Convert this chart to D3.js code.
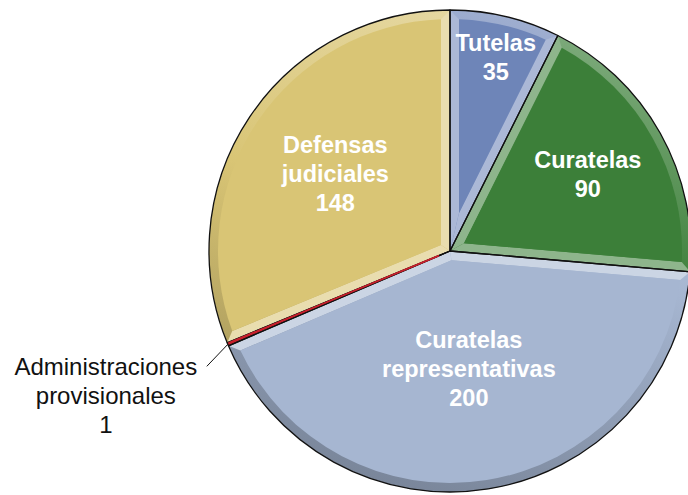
<!DOCTYPE html>
<html>
<head>
<meta charset="utf-8">
<script src="https://cdn.jsdelivr.net/npm/d3@7"></script>
<style>
body { margin: 0; background: #fff; }
svg { display: block; font-family: "Liberation Sans", Arial, Helvetica, sans-serif; }
</style>
</head>
<body>
<div id="chart"></div>
<script>
// Pie: cases by type

var categories = ["Tutelas", "Curatelas", "Curatelas representativas", "Administraciones provisionales", "Defensas judiciales"];
var values = [35, 90, 200, 1, 148];
// category names wrapped the way the chart shows them
var labelLines = [["Tutelas"], ["Curatelas"], ["Curatelas", "representativas"], ["Administraciones", "provisionales"], ["Defensas", "judiciales"]];
var colors = ["#6e85b8", "#3c7f39", "#a6b6d1", "#c8202c", "#d9c575"];
// distance of each inside label from the centre, 0 = label sits outside
var labelRadius = [199, 158, 119, 0, 138];

var svgWidth = 688;
var svgHeight = 495;
var cx = 450, cy = 251, radius = 241, bevel = 9;
var lineHeight = 29;

var svg = d3.select("#chart")
    .append("svg")
    .attr("width", svgWidth)
    .attr("height", svgHeight);

var defs = svg.append("defs");
var pieGroup = svg.append("g")
    .attr("transform", `translate(${cx}, ${cy})`);

var pie = d3.pie().sort(null).value(d => d);
var arcs = pie(values);
var outerArc = d3.arc().innerRadius(0).outerRadius(radius);

// point at angle a (clockwise from 12 o'clock), distance r
function pt(a, r) {
    return [r * Math.sin(a), -r * Math.cos(a)];
}
function isThin(d) {
    return (d.endAngle - d.startAngle) * radius < bevel * 3;
}

// outer bevel shading: light at the top, darker towards the bottom
colors.forEach(function(c, i) {
    var g = defs.append("linearGradient")
        .attr("id", "rim" + i)
        .attr("gradientUnits", "userSpaceOnUse")
        .attr("x1", radius * 0.3).attr("y1", -radius)
        .attr("x2", -radius * 0.3).attr("y2", radius);
    g.append("stop").attr("offset", "0%").attr("stop-color", d3.interpolateRgb(c, "#fff")(0.35));
    g.append("stop").attr("offset", "45%").attr("stop-color", c);
    g.append("stop").attr("offset", "100%").attr("stop-color", d3.color(c).darker(0.9));
});

var slices = pieGroup.selectAll("g.slice")
    .data(arcs)
    .enter()
    .append("g")
    .attr("class", "slice");

slices.each(function(d, i) {
    var g = d3.select(this);
    var c = colors[i];
    var theta = d.endAngle - d.startAngle;

    // whole wedge with the rim gradient
    g.append("path")
        .attr("d", outerArc(d))
        .attr("fill", isThin(d) ? c : "url(#rim" + i + ")");

    if (!isThin(d)) {
        var rIn = radius - bevel;
        var delta = Math.asin(bevel / rIn);
        var apex = pt((d.startAngle + d.endAngle) / 2, bevel / Math.sin(theta / 2));
        var edgeColor = d3.interpolateRgb(c, "#fff")(0.42);

        // bevels along the two straight edges
        [[d.startAngle, d.startAngle + delta], [d.endAngle, d.endAngle - delta]].forEach(function(e) {
            var p = d3.path();
            p.moveTo(0, 0);
            var o = pt(e[0], radius), n = pt(e[1], rIn);
            p.lineTo(o[0], o[1]);
            p.lineTo(n[0], n[1]);
            p.lineTo(apex[0], apex[1]);
            p.closePath();
            g.append("path")
                .attr("d", p.toString())
                .attr("fill", edgeColor);
        });

        // flat top face
        var face = d3.path();
        face.moveTo(apex[0], apex[1]);
        face.arc(0, 0, rIn, d.startAngle + delta - Math.PI / 2, d.endAngle - delta - Math.PI / 2);
        face.closePath();
        g.append("path")
            .attr("d", face.toString())
            .attr("fill", c);
    }
});

// outlines over all fills
pieGroup.selectAll("path.outline")
    .data(arcs)
    .enter()
    .append("path")
    .attr("class", "outline")
    .attr("d", outerArc)
    .attr("fill", "none")
    .attr("stroke", "#111")
    .attr("stroke-width", 1.3)
    .attr("stroke-linejoin", "round");

// thin slices: keep their colour visible over the outline
pieGroup.selectAll("line.thin")
    .data(arcs.filter(isThin))
    .enter()
    .append("line")
    .attr("class", "thin")
    .attr("x1", d => pt(d.endAngle - 0.0025, 12)[0])
    .attr("y1", d => pt(d.endAngle - 0.0025, 12)[1])
    .attr("x2", d => pt(d.endAngle - 0.0025, radius - 1)[0])
    .attr("y2", d => pt(d.endAngle - 0.0025, radius - 1)[1])
    .attr("stroke", d => colors[d.index])
    .attr("stroke-width", 1.8);

// inside labels
slices.filter((d, i) => labelRadius[i] > 0)
    .each(function(d) {
        var k = d.index;
        var lines = labelLines[k].concat([String(values[k])]);
        var pos = pt((d.startAngle + d.endAngle) / 2, labelRadius[k]);
        var t = d3.select(this).append("text")
            .attr("text-anchor", "middle")
            .attr("fill", "#fff")
            .attr("font-weight", "bold")
            .attr("font-size", "23.5px");
        lines.forEach(function(s, j) {
            t.append("tspan")
                .attr("x", pos[0])
                .attr("y", pos[1] + (j - (lines.length - 1) / 2) * lineHeight)
                .attr("dy", "0.35em")
                .text(s);
        });
    });

// outside label with leader line
arcs.filter((d, i) => labelRadius[i] === 0)
    .forEach(function(d) {
        var k = d.index;
        var start = pt((d.startAngle + d.endAngle) / 2, radius);
        var end = [start[0] - 21, start[1] + 22];
        pieGroup.append("line")
            .attr("x1", start[0]).attr("y1", start[1])
            .attr("x2", end[0]).attr("y2", end[1])
            .attr("stroke", "#111")
            .attr("stroke-width", 1);
        var lines = labelLines[k].concat([String(values[k])]);
        var t = pieGroup.append("text")
            .attr("text-anchor", "middle")
            .attr("fill", "#111")
            .attr("font-size", "24px");
        lines.forEach(function(s, j) {
            t.append("tspan")
                .attr("x", end[0] - 101)
                .attr("y", end[1] + 9 + j * lineHeight)
                .text(s);
        });
    });
</script>
</body>
</html>
